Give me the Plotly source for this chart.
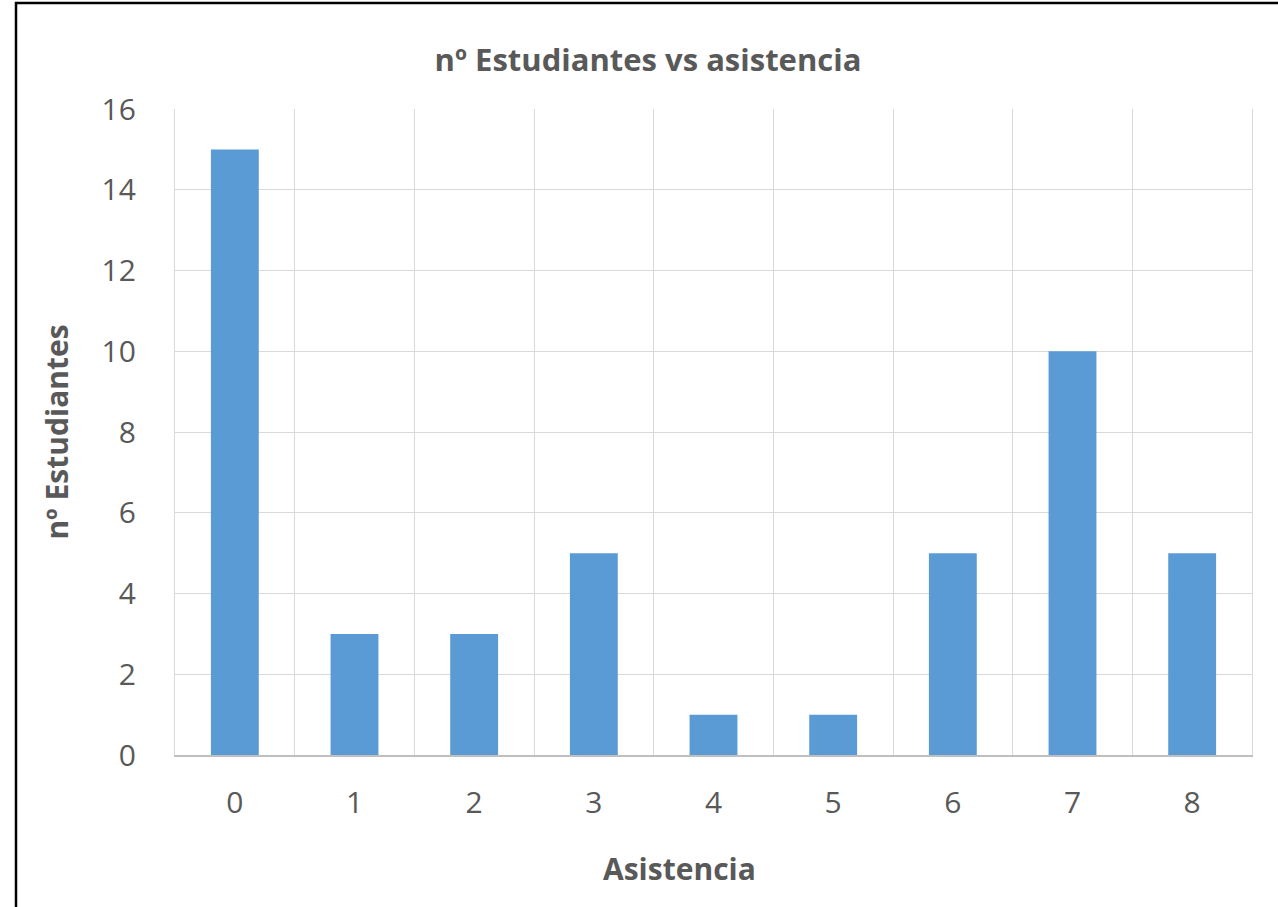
import plotly.graph_objects as go

asistencia = ["0", "1", "2", "3", "4", "5", "6", "7", "8"]
estudiantes = [15, 3, 3, 5, 1, 1, 5, 10, 5]
y_ticks = [0, 2, 4, 6, 8, 10, 12, 14, 16]

W, H = 1278, 907
L, R, T, B = 175, 26, 109, 152
pw, ph = W - L - R, H - T - B

fig = go.Figure(go.Bar(x=asistencia, y=estudiantes, marker=dict(color="#5b9bd5", line=dict(width=0)),
                       width=0.4))

font = "Open Sans"
grey = "#595959"
fig.update_layout(
    width=W, height=H,
    margin=dict(l=L, r=R, t=T, b=B),
    paper_bgcolor="white", plot_bgcolor="white",
    showlegend=False,
    title=dict(text="<b>nº Estudiantes vs asistencia</b>", x=648 / W, xanchor="center",
               y=1 - 60 / H, yanchor="middle",
               font=dict(family=font, size=31, color=grey)),
    font=dict(family=font, color=grey),
)
fig.update_xaxes(
    type="category", range=[-0.5, 8.5], tickson="boundaries",
    showgrid=True, gridcolor="#d9d9d9", gridwidth=1.3,
    showline=True, linecolor="#bfbfbf", linewidth=2,
    ticks="", ticklabelstandoff=20,
    tickfont=dict(family=font, size=30, color=grey),
)
fig.update_yaxes(
    range=[0, 16], tickvals=y_ticks,
    showgrid=True, gridcolor="#d9d9d9", gridwidth=1.3,
    showline=True, mirror=True, linecolor="#d9d9d9", linewidth=1.3,
    zeroline=False, ticks="", ticklabelstandoff=32,
    tickfont=dict(family=font, size=30, color=grey),
    title=dict(text="<b>nº Estudiantes</b>", font=dict(family=font, size=30, color=grey), standoff=24),
)
fig.add_annotation(text="<b>Asistencia</b>", xref="paper", yref="paper",
                   x=(679 - L) / pw, y=(T + ph - 868) / ph, xanchor="center", yanchor="middle",
                   showarrow=False, font=dict(family=font, size=30, color=grey))
# outer chart border
fig.add_shape(type="rect", xref="paper", yref="paper",
              x0=(16 - L) / pw, x1=(W + 20 - L) / pw,
              y0=-(H + 20 - T - ph) / ph, y1=(T + ph - 3) / ph,
              line=dict(color="black", width=2.5), fillcolor="rgba(0,0,0,0)", layer="above")

fig.write_html("out.html", config={"displayModeBar": False},
               post_script="document.body.style.margin='0';")
